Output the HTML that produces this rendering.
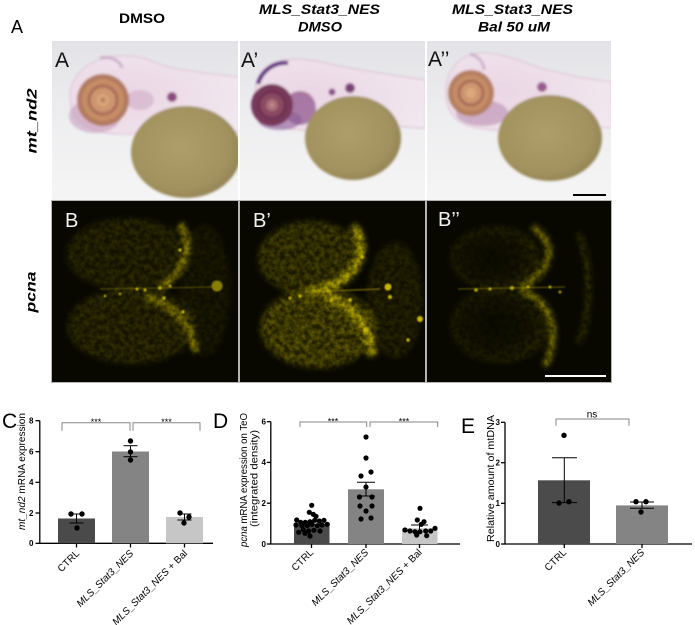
<!DOCTYPE html>
<html><head><meta charset="utf-8">
<style>
html,body{margin:0;padding:0;background:#fff;}
body{width:695px;height:625px;overflow:hidden;}
svg{display:block;font-family:"Liberation Sans",Arial,sans-serif;}
</style></head>
<body>
<svg width="695" height="625" viewBox="0 0 695 625" xmlns="http://www.w3.org/2000/svg">
<defs>
  <linearGradient id="bgA" x1="0" y1="0" x2="0" y2="1">
    <stop offset="0" stop-color="#e3e3e7"/><stop offset="0.5" stop-color="#eeeef0"/><stop offset="1" stop-color="#f5f5f5"/>
  </linearGradient>
  <radialGradient id="yolk" cx="0.45" cy="0.45" r="0.6">
    <stop offset="0" stop-color="#ad9e6a"/><stop offset="0.75" stop-color="#a2925e"/><stop offset="1" stop-color="#918154"/>
  </radialGradient>
  <radialGradient id="body" cx="0.3" cy="0.5" r="0.8">
    <stop offset="0" stop-color="#ead6e4"/><stop offset="1" stop-color="#f2e8ef"/>
  </radialGradient>
  <radialGradient id="hollow" cx="0.45" cy="0.5" r="0.55">
    <stop offset="0" stop-color="#d8c800" stop-opacity="0.03"/><stop offset="0.6" stop-color="#d8c800" stop-opacity="0.12"/><stop offset="1" stop-color="#d8c800" stop-opacity="0.32"/>
  </radialGradient>
  <filter id="soft" x="-10%" y="-10%" width="120%" height="120%"><feGaussianBlur stdDeviation="1.3"/></filter>
  <filter id="fx" filterUnits="userSpaceOnUse" x="40" y="195" width="600" height="195">
    <feGaussianBlur in="SourceGraphic" stdDeviation="2.8" result="b"/>
    <feTurbulence type="fractalNoise" baseFrequency="0.2" numOctaves="2" seed="7" result="t"/>
    <feColorMatrix in="t" type="matrix" values="0 0 0 0 1  0 0 0 0 1  0 0 0 0 1  2.0 0 0 0 -0.55" result="ta"/>
    <feComposite in="b" in2="ta" operator="arithmetic" k1="0.8" k2="0.35" k3="0" k4="0"/>
  </filter>
  <filter id="glow" x="-50%" y="-50%" width="200%" height="200%"><feGaussianBlur stdDeviation="0.8"/></filter>
  <filter id="glow2" filterUnits="userSpaceOnUse" x="40" y="195" width="600" height="195"><feGaussianBlur stdDeviation="2.2"/></filter>
  <clipPath id="c1"><rect x="52" y="41" width="186" height="159"/></clipPath>
  <clipPath id="c2"><rect x="240" y="41" width="185" height="159"/></clipPath>
  <clipPath id="c3"><rect x="427" y="41" width="184" height="159"/></clipPath>
  <clipPath id="d1"><rect x="52" y="201" width="186" height="181"/></clipPath>
  <clipPath id="d2"><rect x="240" y="201" width="185" height="181"/></clipPath>
  <clipPath id="d3"><rect x="427" y="201" width="184" height="181"/></clipPath>
</defs>

<!-- Headers -->
<text x="11" y="33" font-size="18">A</text>
<text x="142" y="23" font-size="14" font-weight="bold" text-anchor="middle" textLength="46" lengthAdjust="spacingAndGlyphs">DMSO</text>
<text x="319.5" y="14" font-size="14" font-weight="bold" font-style="italic" text-anchor="middle" textLength="121" lengthAdjust="spacingAndGlyphs">MLS_Stat3_NES</text>
<text x="320" y="31.5" font-size="14" font-weight="bold" font-style="italic" text-anchor="middle" textLength="44" lengthAdjust="spacingAndGlyphs">DMSO</text>
<text x="512.5" y="14" font-size="14" font-weight="bold" font-style="italic" text-anchor="middle" textLength="121" lengthAdjust="spacingAndGlyphs">MLS_Stat3_NES</text>
<text x="514" y="31.5" font-size="14" font-weight="bold" font-style="italic" text-anchor="middle" textLength="72" lengthAdjust="spacingAndGlyphs">Bal 50 uM</text>

<text transform="translate(36.5,121) rotate(-90)" font-size="14" font-weight="bold" font-style="italic" text-anchor="middle" textLength="65" lengthAdjust="spacingAndGlyphs">mt_nd2</text>
<text transform="translate(35.5,292) rotate(-90)" font-size="14" font-weight="bold" font-style="italic" text-anchor="middle" textLength="41" lengthAdjust="spacingAndGlyphs">pcna</text>

<!-- Row 1 panel 1 -->
<g clip-path="url(#c1)">
  <rect x="52" y="41" width="186" height="159" fill="url(#bgA)"/>
  <g filter="url(#soft)">
    <path d="M70,100 C68,75 90,58 118,56 C140,55 150,60 162,65 C182,71 205,73 240,77 L240,132 C215,130 200,128 185,128 L150,131 C130,136 105,135 90,128 C75,122 71,112 70,100 Z" fill="url(#body)" stroke="#dcbfd3" stroke-width="1"/>
    <ellipse cx="95" cy="116" rx="26" ry="17" fill="#b985ab" opacity="0.45"/>
    <ellipse cx="140" cy="100" rx="14" ry="10" fill="#c9a3c0" opacity="0.5"/>
    <path d="M100,58 C110,56 120,60 122,68" stroke="#b990b8" stroke-width="3" fill="none" opacity="0.6"/>
    <circle cx="103" cy="100" r="26" fill="#b27a5e"/>
    <circle cx="103" cy="100" r="21" fill="#c68d66"/>
    <circle cx="103" cy="100" r="14" fill="#cd966e" stroke="#a86c58" stroke-width="3"/>
    <circle cx="103" cy="100" r="6" fill="#d9a67a"/>
    <circle cx="103" cy="100" r="2.5" fill="#b57a5a"/>
    <circle cx="172" cy="97" r="5" fill="#8c4c80"/>
    <ellipse cx="186" cy="152" rx="55" ry="46" fill="url(#yolk)"/>
  </g>
  <text x="55" y="67" font-size="21" fill="#111">A</text>
</g>

<!-- Row 1 panel 2 -->
<g clip-path="url(#c2)">
  <rect x="240" y="41" width="185" height="159" fill="url(#bgA)"/>
  <g filter="url(#soft)">
    <path d="M256,100 C252,80 262,64 285,60 C305,57 320,62 340,66 C370,72 400,76 426,80 L426,128 C410,128 400,126 395,126 L330,130 C300,132 275,128 262,120 C256,113 256,106 256,100 Z" fill="url(#body)" stroke="#d8b8cf" stroke-width="1"/>
    <path d="M258,84 C262,70 275,62 288,63" stroke="#5e3280" stroke-width="4" fill="none"/>
    <ellipse cx="300" cy="108" rx="16" ry="17" fill="#8a5088" opacity="0.7"/>
    <ellipse cx="280" cy="120" rx="22" ry="10" fill="#8c5a96" opacity="0.6"/>
    <circle cx="272" cy="105" r="21" fill="#77385a"/>
    <circle cx="272" cy="105" r="13" fill="#8a4862" stroke="#6a2c4c" stroke-width="2"/>
    <circle cx="272" cy="105" r="6" fill="#a86e78"/>
    <circle cx="272" cy="105" r="2.5" fill="#c08a80"/>
    <circle cx="350" cy="88" r="5" fill="#7a4078"/>
    <circle cx="332" cy="92" r="3.5" fill="#8a5088"/>
    <ellipse cx="353" cy="138" rx="48" ry="42" fill="url(#yolk)"/>
  </g>
  <text x="241" y="67" font-size="21" fill="#111">A’</text>
</g>

<!-- Row 1 panel 3 -->
<g clip-path="url(#c3)">
  <rect x="427" y="41" width="184" height="159" fill="url(#bgA)"/>
  <g filter="url(#soft)">
    <path d="M446,95 C444,72 458,56 478,53 C500,52 520,60 540,68 C570,76 595,80 612,82 L612,128 C600,127 590,126 590,126 L520,130 C490,132 465,128 455,118 C448,110 446,102 446,95 Z" fill="url(#body)" stroke="#dcbfd3" stroke-width="1"/>
    <ellipse cx="482" cy="113" rx="26" ry="13" fill="#b07ca6" opacity="0.5"/>
    <path d="M470,54 C478,56 484,62 484,70" stroke="#b994bc" stroke-width="3" fill="none" opacity="0.6"/>
    <circle cx="471" cy="93" r="23" fill="#b57e5e"/>
    <circle cx="471" cy="93" r="18" fill="#c68e68"/>
    <circle cx="471" cy="93" r="12" fill="#cd966e" stroke="#a86c58" stroke-width="3"/>
    <circle cx="471" cy="93" r="5" fill="#dba97c"/>
    <circle cx="542" cy="87" r="5" fill="#9a5a90"/>
    <ellipse cx="550" cy="138" rx="52" ry="43" fill="url(#yolk)"/>
  </g>
  <text x="428" y="66" font-size="21" fill="#111">A’’</text>
  <rect x="573" y="194" width="33" height="2" fill="#000"/>
</g>

<!-- Row 2 fluorescence -->
<rect x="51.5" y="200.5" width="187" height="182" fill="#080800" stroke="#b5b5b5" stroke-width="1"/>
<rect x="239.5" y="200.5" width="186" height="182" fill="#080800" stroke="#b5b5b5" stroke-width="1"/>
<rect x="426.5" y="200.5" width="185" height="182" fill="#080800" stroke="#b5b5b5" stroke-width="1"/>

<g clip-path="url(#d1)">
  <g filter="url(#fx)" opacity="0.5">
    <ellipse cx="128" cy="254" rx="62" ry="36" fill="#d8c800" fill-opacity="0.3"/>
    <ellipse cx="132" cy="326" rx="65" ry="38" fill="#d8c800" fill-opacity="0.34"/>
    <ellipse cx="205" cy="290" rx="25" ry="66" fill="#d8c800" fill-opacity="0.16"/>
    <path d="M180,224 C194,245 186,270 160,288 M145,296 C175,305 190,325 196,352" stroke="#f0e000" stroke-width="7" fill="none" stroke-opacity="0.95"/>
  </g>
  <path d="M180,224 C194,245 186,270 160,288 M145,296 C175,305 190,325 196,352" stroke="#c8b800" stroke-width="4" fill="none" stroke-opacity="0.28" filter="url(#glow2)"/>
  <g filter="url(#glow)" fill="#c8b800">
    <path d="M100,289 L215,287" stroke="#a89a00" stroke-width="1" stroke-opacity="0.5"/>
    <circle cx="217" cy="286" r="5.5" fill="#8a7e00"/>
    <circle cx="137" cy="289" r="1.5"/><circle cx="145" cy="290" r="1.5"/><circle cx="160" cy="288" r="1.7"/>
    <circle cx="170" cy="286" r="1.4"/><circle cx="180" cy="250" r="1.6"/><circle cx="183" cy="312" r="1.6"/>
    <circle cx="105" cy="296" r="1.2"/><circle cx="120" cy="294" r="1.2"/><circle cx="164" cy="298" r="1.6"/>
  </g>
  <text x="65" y="227" font-size="20" fill="#f2f2f2">B</text>
</g>

<g clip-path="url(#d2)">
  <g filter="url(#fx)" opacity="0.72">
    <ellipse cx="310" cy="258" rx="52" ry="37" fill="#e0d000" fill-opacity="0.34"/>
    <ellipse cx="318" cy="328" rx="58" ry="40" fill="#e0d000" fill-opacity="0.46"/>
    <ellipse cx="395" cy="300" rx="28" ry="58" fill="#d8c800" fill-opacity="0.18"/>
    <path d="M353,226 C368,245 362,272 330,286 L310,292 M325,296 C352,305 370,325 372,356" stroke="#f5e400" stroke-width="9" fill="none" stroke-opacity="0.9"/>
  </g>
  <path d="M353,226 C368,245 362,272 330,286 L310,292 M325,296 C352,305 370,325 372,356" stroke="#d0c000" stroke-width="5" fill="none" stroke-opacity="0.3" filter="url(#glow2)"/>
  <g filter="url(#glow)" fill="#c8b800">
    <path d="M305,292 L380,289" stroke="#b0a200" stroke-width="1.3" stroke-opacity="0.65"/>
    <circle cx="388" cy="287" r="3.5"/><circle cx="420" cy="319" r="3"/><circle cx="390" cy="297" r="2"/>
    <circle cx="300" cy="296" r="1.7"/><circle cx="290" cy="298" r="1.5"/><circle cx="350" cy="300" r="1.9"/>
    <circle cx="362" cy="257" r="1.9"/><circle cx="365" cy="330" r="2"/><circle cx="408" cy="340" r="1.7"/>
  </g>
  <text x="253" y="227" font-size="20" fill="#f2f2f2">B’</text>
</g>

<g clip-path="url(#d3)">
  <g filter="url(#fx)" opacity="0.5">
    <ellipse cx="495" cy="258" rx="45" ry="32" fill="url(#hollow)"/>
    <ellipse cx="500" cy="325" rx="50" ry="38" fill="url(#hollow)"/>
    <path d="M532,227 C556,240 556,270 520,288 M522,291 C550,300 562,330 545,366" stroke="#e8d800" stroke-width="7" fill="none" stroke-opacity="0.85"/>
    <path d="M578,233 C592,260 592,320 578,343" stroke="#d8c800" stroke-width="6" fill="none" stroke-opacity="0.4"/>
  </g>
  <path d="M532,227 C556,240 556,270 520,288 M522,291 C550,300 562,330 545,366" stroke="#c0b200" stroke-width="4" fill="none" stroke-opacity="0.22" filter="url(#glow2)"/>
  <g filter="url(#glow)" fill="#b8aa00">
    <path d="M458,289 L565,287" stroke="#a89a00" stroke-width="1.1" stroke-opacity="0.6"/>
    <circle cx="476" cy="290" r="1.8"/><circle cx="490" cy="289" r="1.6"/><circle cx="512" cy="288" r="2"/>
    <circle cx="528" cy="287" r="1.6"/><circle cx="550" cy="287" r="1.5"/><circle cx="560" cy="292" r="1.4"/>
  </g>
  <text x="438" y="226" font-size="20" fill="#f2f2f2">B’’</text>
  <rect x="545" y="375" width="61" height="2" fill="#fff"/>
</g>

<!-- ===== Chart C ===== -->
<text x="2" y="428" font-size="21">C</text>
<text transform="translate(25,471.5) rotate(-90)" font-size="10" text-anchor="middle" textLength="117" lengthAdjust="spacingAndGlyphs"><tspan font-style="italic">mt_nd2</tspan> mRNA expression</text>
<g font-size="8" font-weight="bold" text-anchor="end">
  <text x="33.5" y="423.5">8</text><text x="33.5" y="454.5">6</text><text x="33.5" y="485">4</text><text x="33.5" y="515.8">2</text><text x="33.5" y="546">0</text>
</g>
<g stroke="#000" stroke-width="1.3">
  <line x1="39.8" y1="420.7" x2="39.8" y2="543.3"/>
  <line x1="39.2" y1="543.3" x2="213" y2="543.3"/>
  <line x1="35.5" y1="420.7" x2="39.8" y2="420.7"/><line x1="35.5" y1="451.7" x2="39.8" y2="451.7"/>
  <line x1="35.5" y1="482.3" x2="39.8" y2="482.3"/><line x1="35.5" y1="513" x2="39.8" y2="513"/>
  <line x1="35.5" y1="543.3" x2="39.8" y2="543.3"/>
  <line x1="76.5" y1="543.3" x2="76.5" y2="547.5"/><line x1="130.5" y1="543.3" x2="130.5" y2="547.5"/><line x1="184.5" y1="543.3" x2="184.5" y2="547.5"/>
</g>
<rect x="58" y="518.5" width="37" height="24.8" fill="#4a4a4a"/>
<rect x="112" y="451.5" width="37" height="91.8" fill="#848484"/>
<rect x="166" y="517" width="37" height="26.3" fill="#c6c6c6"/>
<g stroke="#000" stroke-width="1">
  <line x1="76.5" y1="514" x2="76.5" y2="523"/><line x1="69.5" y1="514" x2="83.5" y2="514"/><line x1="69.5" y1="523" x2="83.5" y2="523"/>
  <line x1="130.5" y1="445.7" x2="130.5" y2="456.7"/><line x1="123.5" y1="445.7" x2="137.5" y2="445.7"/><line x1="123.5" y1="456.7" x2="137.5" y2="456.7"/>
  <line x1="184.5" y1="514" x2="184.5" y2="520"/><line x1="177.5" y1="514" x2="191.5" y2="514"/><line x1="177.5" y1="520" x2="191.5" y2="520"/>
</g>
<g fill="#000">
  <circle cx="71" cy="514" r="2.7"/><circle cx="82" cy="514" r="2.7"/><circle cx="77" cy="528" r="2.7"/>
  <circle cx="130.5" cy="441" r="2.7"/><circle cx="130.5" cy="452" r="2.7"/><circle cx="130.5" cy="460" r="2.7"/>
  <circle cx="180" cy="513" r="2.7"/><circle cx="189" cy="517" r="2.7"/><circle cx="184" cy="523" r="2.7"/>
</g>
<g stroke="#858585" stroke-width="1" fill="none">
  <path d="M62,430.7 V422.7 H130 V430.7"/><path d="M133,430.7 V422.7 H200 V430.7"/>
</g>
<g font-size="9" text-anchor="middle"><text x="96" y="425">***</text><text x="166.5" y="425">***</text></g>
<g font-size="10" text-anchor="end">
  <text transform="translate(80,554) rotate(-45)">CTRL</text>
  <text transform="translate(134,554) rotate(-45)" font-style="italic">MLS_Stat3_NES</text>
  <text transform="translate(188,554) rotate(-45)"><tspan font-style="italic">MLS_Stat3_NES</tspan> + Bal</text>
</g>

<!-- ===== Chart D ===== -->
<text x="213" y="428" font-size="21">D</text>
<text transform="translate(247,480) rotate(-90)" font-size="10" text-anchor="middle" textLength="134" lengthAdjust="spacingAndGlyphs"><tspan font-style="italic">pcna</tspan> mRNA expression on TeO</text>
<text transform="translate(257.5,478.5) rotate(-90)" font-size="10" text-anchor="middle" textLength="97" lengthAdjust="spacingAndGlyphs">(integrated density)</text>
<g font-size="8" font-weight="bold" text-anchor="end">
  <text x="266" y="424.5">6</text><text x="266" y="465.2">4</text><text x="266" y="506">2</text><text x="266" y="546.8">0</text>
</g>
<g stroke="#000" stroke-width="1.3">
  <line x1="270.8" y1="421.7" x2="270.8" y2="544"/>
  <line x1="270.2" y1="544" x2="460" y2="544"/>
  <line x1="266.8" y1="421.7" x2="270.8" y2="421.7"/><line x1="266.8" y1="462.4" x2="270.8" y2="462.4"/>
  <line x1="266.8" y1="503.2" x2="270.8" y2="503.2"/><line x1="266.8" y1="544" x2="270.8" y2="544"/>
  <line x1="311.5" y1="544" x2="311.5" y2="548"/><line x1="366" y1="544" x2="366" y2="548"/><line x1="419.5" y1="544" x2="419.5" y2="548"/>
</g>
<rect x="294" y="523.6" width="35.5" height="20.4" fill="#4a4a4a"/>
<rect x="348" y="489.3" width="36" height="54.7" fill="#848484"/>
<rect x="402" y="528.3" width="35.5" height="15.7" fill="#c6c6c6"/>
<g fill="#000">
  <circle cx="311.7" cy="505.3" r="2.6"/><circle cx="309.3" cy="512.3" r="2.6"/><circle cx="313.3" cy="514.3" r="2.6"/>
  <circle cx="316" cy="516.3" r="2.6"/><circle cx="296.7" cy="520" r="2.6"/><circle cx="300.7" cy="522.3" r="2.6"/>
  <circle cx="305.3" cy="522.3" r="2.6"/><circle cx="310" cy="521.7" r="2.6"/><circle cx="314.7" cy="520.3" r="2.6"/>
  <circle cx="319.3" cy="521" r="2.6"/><circle cx="324" cy="520.3" r="2.6"/><circle cx="327.3" cy="524.3" r="2.6"/>
  <circle cx="296" cy="525" r="2.6"/><circle cx="302" cy="525.7" r="2.6"/><circle cx="307.3" cy="525.7" r="2.6"/>
  <circle cx="312" cy="524.3" r="2.6"/><circle cx="317.3" cy="525.7" r="2.6"/><circle cx="322" cy="525" r="2.6"/>
  <circle cx="303.3" cy="529.7" r="2.6"/><circle cx="308.7" cy="531" r="2.6"/><circle cx="314" cy="530.3" r="2.6"/>
  <circle cx="320" cy="531" r="2.6"/><circle cx="298.7" cy="532.3" r="2.6"/><circle cx="310" cy="536" r="2.6"/>
  <circle cx="305" cy="533.3" r="2.6"/>
  <circle cx="366" cy="437" r="2.6"/><circle cx="366" cy="458" r="2.6"/><circle cx="371" cy="472" r="2.6"/>
  <circle cx="361" cy="476" r="2.6"/><circle cx="366" cy="487" r="2.6"/><circle cx="359.5" cy="497" r="2.6"/>
  <circle cx="372" cy="497" r="2.6"/><circle cx="360" cy="506" r="2.6"/><circle cx="372" cy="506" r="2.6"/>
  <circle cx="366" cy="511" r="2.6"/><circle cx="361" cy="519" r="2.6"/><circle cx="371" cy="518" r="2.6"/>
  <circle cx="420" cy="508.3" r="2.6"/><circle cx="417.3" cy="520" r="2.6"/><circle cx="424" cy="521.7" r="2.6"/>
  <circle cx="421.3" cy="524.3" r="2.6"/><circle cx="405" cy="530" r="2.6"/><circle cx="410" cy="531" r="2.6"/>
  <circle cx="415" cy="531.7" r="2.6"/><circle cx="420" cy="531.7" r="2.6"/><circle cx="425.7" cy="531" r="2.6"/>
  <circle cx="430.7" cy="531" r="2.6"/><circle cx="435" cy="528.3" r="2.6"/><circle cx="426.7" cy="535.7" r="2.6"/>
  <circle cx="416.7" cy="535" r="2.6"/>
</g>
<g stroke="#000" stroke-width="1">
  <line x1="311.5" y1="522" x2="311.5" y2="525.5"/><line x1="304" y1="522" x2="319" y2="522"/>
  <line x1="366" y1="482.3" x2="366" y2="496"/><line x1="357" y1="482.3" x2="375" y2="482.3"/><line x1="357" y1="496" x2="375" y2="496"/>
  <line x1="419.5" y1="525" x2="419.5" y2="531"/><line x1="411" y1="525" x2="428" y2="525"/>
</g>
<g stroke="#858585" stroke-width="1" fill="none">
  <path d="M300,427 V422 H366.7 V427"/><path d="M370,427 V422 H437.7 V427"/>
</g>
<g font-size="9" text-anchor="middle"><text x="333" y="424.5">***</text><text x="404" y="424.5">***</text></g>
<g font-size="10" text-anchor="end">
  <text transform="translate(314,553) rotate(-45)">CTRL</text>
  <text transform="translate(369,553) rotate(-45)" font-style="italic">MLS_Stat3_NES</text>
  <text transform="translate(422.5,553) rotate(-45)"><tspan font-style="italic">MLS_Stat3_NES</tspan> + Bal</text>
</g>

<!-- ===== Chart E ===== -->
<text x="461" y="433" font-size="21">E</text>
<text transform="translate(494,478.5) rotate(-90)" font-size="10" text-anchor="middle" textLength="127" lengthAdjust="spacingAndGlyphs">Relative amount of mtDNA</text>
<g font-size="8" font-weight="bold" text-anchor="end">
  <text x="500" y="425.2">3</text><text x="500" y="465.6">2</text><text x="500" y="506.2">1</text><text x="500" y="546.9">0</text>
</g>
<g stroke="#000" stroke-width="1.3">
  <line x1="505" y1="422.3" x2="505" y2="544"/>
  <line x1="504.4" y1="544" x2="692" y2="544"/>
  <line x1="501" y1="422.3" x2="505" y2="422.3"/><line x1="501" y1="462.7" x2="505" y2="462.7"/>
  <line x1="501" y1="503.3" x2="505" y2="503.3"/><line x1="501" y1="544" x2="505" y2="544"/>
  <line x1="564.3" y1="544" x2="564.3" y2="548"/><line x1="642" y1="544" x2="642" y2="548"/>
</g>
<rect x="538" y="480.3" width="52" height="63.7" fill="#4b4b4b"/>
<rect x="616" y="505.4" width="52" height="38.6" fill="#848484"/>
<g stroke="#000" stroke-width="1">
  <line x1="564.3" y1="457.7" x2="564.3" y2="502.6"/><line x1="552" y1="457.7" x2="577" y2="457.7"/><line x1="552" y1="502.6" x2="577" y2="502.6"/>
  <line x1="642" y1="502" x2="642" y2="508.3"/><line x1="630" y1="502" x2="654" y2="502"/><line x1="630" y1="508.3" x2="654" y2="508.3"/>
</g>
<g fill="#000">
  <circle cx="564" cy="435.3" r="2.7"/><circle cx="559" cy="503" r="2.7"/><circle cx="569" cy="501.7" r="2.7"/>
  <circle cx="636" cy="501.7" r="2.7"/><circle cx="646" cy="501.7" r="2.7"/><circle cx="641" cy="512" r="2.7"/>
</g>
<path d="M556,425.7 V419 H629 V425.7" stroke="#858585" stroke-width="1" fill="none"/>
<text x="592" y="417.7" font-size="10" text-anchor="middle">ns</text>
<g font-size="10" text-anchor="end">
  <text transform="translate(567,553) rotate(-45)">CTRL</text>
  <text transform="translate(645,553) rotate(-45)" font-style="italic">MLS_Stat3_NES</text>
</g>
</svg>
</body></html>
